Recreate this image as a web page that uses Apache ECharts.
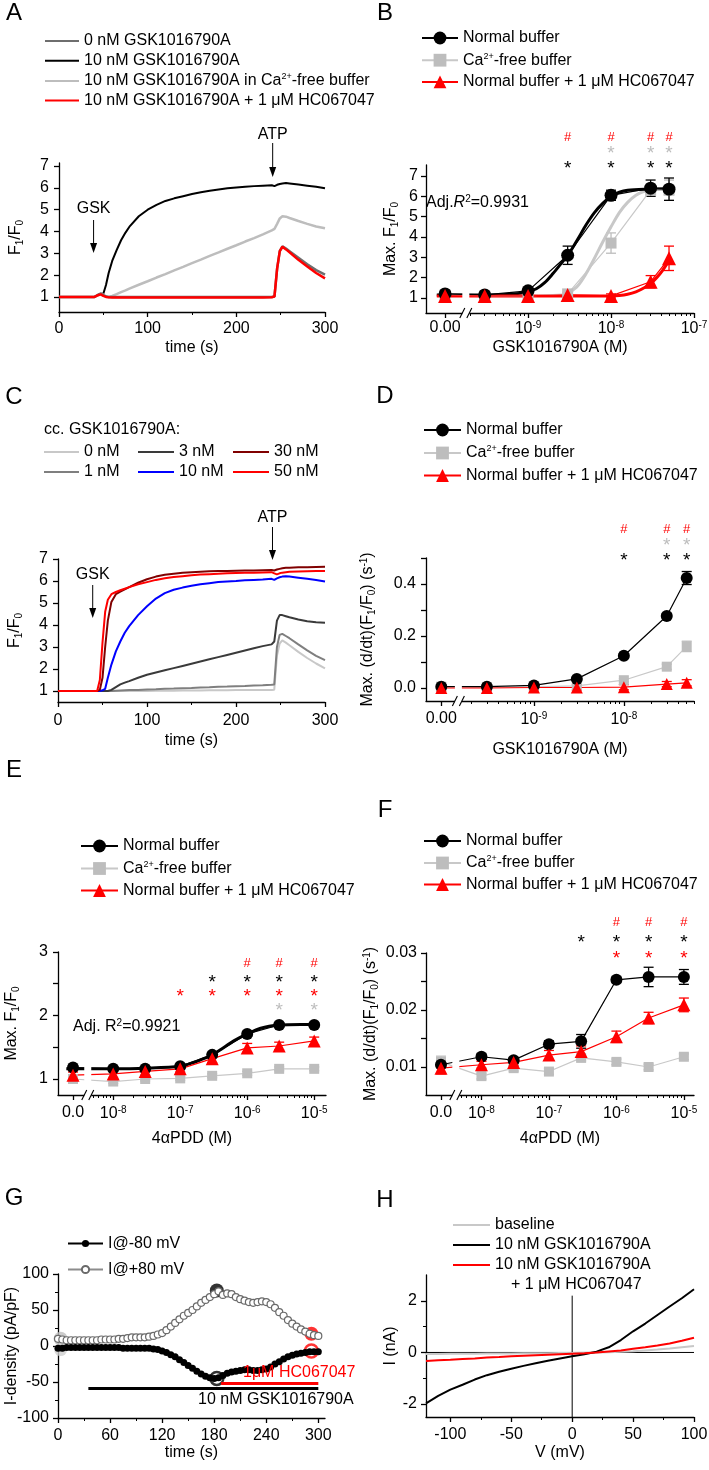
<!DOCTYPE html>
<html>
<head>
<meta charset="utf-8">
<script src="https://cdn.jsdelivr.net/npm/echarts@6.0.0/dist/echarts.min.js"></script>
<style>
html,body{margin:0;padding:0;background:#fff;}
#chart{width:709px;height:1470px;}
</style>
</head>
<body>
<div id="chart"></div>
<script>
// ================= DATA =================
// Panels A & C: time (s)
const timeTrace = [0,10,20,30,40,44,47,50,53,56,60,65,70,75,80,90,100,110,120,130,140,150,160,170,180,190,200,210,220,230,240,243,246,249,252,256,260,270,280,290,300];
// Panel A: F1/F0
const A_gsk0 = [1.00,1.00,1.00,1.00,1.00,1.10,1.15,1.08,1.02,1.00, 1.00,1.00,1.00,1.00,1.00,1.00,1.00,1.00,1.00,1.00,1.00,1.00,1.00,1.00,1.00,1.00,1.00,1.00,1.00,1.00,1.00, 1.02,2.30,3.10,3.32,3.22,3.10,2.80,2.50,2.23,2.02];
const A_gsk10 = [1.00,1.00,1.00,1.00,1.00,1.08,1.15,1.15,1.55,2.10,2.65,3.15,3.60,3.95,4.25,4.70,5.00,5.22,5.40,5.52,5.62,5.72,5.80,5.87,5.93,5.98,6.02,6.05,6.08,6.10,6.12,6.08,6.14,6.18,6.20,6.22,6.20,6.15,6.10,6.05,5.98];
const A_gsk10Ca = [1.00,1.00,1.00,1.00,1.00,1.08,1.15,1.10,1.03,1.00,1.05,1.13,1.22,1.30,1.39,1.56,1.72,1.89,2.05,2.22,2.38,2.55,2.71,2.88,3.04,3.21,3.37,3.54,3.70,3.87,4.05,4.12,4.35,4.60,4.70,4.68,4.62,4.48,4.35,4.23,4.15];
const A_gsk10HC = [1.00,1.00,1.00,1.00,1.00,1.08,1.12,1.05,1.00,0.99, 0.98,0.98,0.98,0.98,0.98,0.98,0.98,0.98,0.98,0.98,0.98,0.98,0.98,0.98,0.98,0.98,0.98,0.98,0.98,0.98,0.99, 1.02,2.30,3.10,3.30,3.18,3.05,2.70,2.40,2.10,1.85];
// Panel C: F1/F0 for each GSK1016790A concentration
const C_0nM  = [1,1,1,1,1, 1,1,1,1,1, 1.00,1.00,1.00,1.00,1.00,1.00,1.00,1.01,1.01,1.01,1.02,1.02,1.02,1.03,1.03,1.03,1.04,1.04,1.04,1.05,1.05, 1.06,2.60,3.15,3.30,3.20,3.08,2.78,2.50,2.25,2.03];
const C_1nM  = [1,1,1,1,1, 1,1,1,1,1, 1.00,1.01,1.02,1.03,1.04,1.05,1.07,1.08,1.10,1.11,1.13,1.14,1.16,1.17,1.19,1.20,1.22,1.23,1.25,1.26,1.28, 1.30,3.00,3.55,3.60,3.50,3.40,3.12,2.85,2.60,2.40];
const C_3nM  = [1,1,1,1,1, 1,1,1,1,1, 1.05,1.18,1.30,1.38,1.45,1.60,1.74,1.84,1.94,2.04,2.14,2.24,2.34,2.44,2.54,2.64,2.74,2.84,2.94,3.04,3.12, 3.25,4.20,4.45,4.45,4.40,4.35,4.25,4.17,4.12,4.10];
const C_10nM = [1,1,1,1,1, 1.00,1.00,1.03,1.10,1.60, 2.20,2.80,3.25,3.65,3.95,4.45,4.85,5.20,5.45,5.60,5.70,5.78,5.85,5.90,5.95,5.98,6.00,6.03,6.05,6.07,6.10, 6.05,6.12,6.17,6.20,6.22,6.20,6.15,6.10,6.05,5.98];
const C_30nM = [1,1,1,1,1, 1.00,1.05,1.60,3.00,4.20, 5.05,5.40,5.52,5.62,5.72,5.92,6.08,6.20,6.28,6.33,6.37,6.40,6.42,6.44,6.45,6.46,6.47,6.48,6.48,6.49,6.50, 6.48,6.52,6.55,6.58,6.60,6.60,6.62,6.63,6.64,6.65];
const C_50nM = [1,1,1,1,1, 1.00,1.50,3.20,4.60,5.15, 5.40,5.50,5.58,5.65,5.72,5.85,5.95,6.05,6.12,6.18,6.22,6.26,6.29,6.31,6.33,6.35,6.36,6.37,6.38,6.39,6.40, 6.35,6.30,6.35,6.38,6.40,6.42,6.43,6.44,6.45,6.45];
// Annotation times (s)
const gskAddTime = 39, atpAddTime = 241;

// Panel B: GSK1016790A concentration (M) vs Max F1/F0
const concGSK = [0, 3e-10, 1e-9, 3e-9, 1e-8, 3e-8, 5e-8];
const B_norm = [1.20, 1.15, 1.35, 3.10, 6.05, 6.40, 6.35];
const B_normErr = [0.15, 0.10, 0.10, 0.45, 0.25, 0.40, 0.55];
const B_ca = [1.15, 1.10, 1.10, 1.20, 3.70, 6.30, 6.30];
const B_caErr = [0.10, 0.10, 0.10, 0.10, 0.50, 0.30, 0.50];
const B_hc = [1.10, 1.10, 1.10, 1.15, 1.10, 1.80, 2.95];
const B_hcErr = [0.15, 0.10, 0.10, 0.10, 0.10, 0.30, 0.60];
// Fitted curves in panel B (log10 M, Max F1/F0)
const fitB_norm_logc = [-10.1,-9.5,-9.2,-9.0,-8.9,-8.8,-8.7,-8.6,-8.52,-8.4,-8.3,-8.2,-8.1,-8.0,-7.9,-7.8,-7.6,-7.3];
const fitB_norm_val  = [1.15,1.15,1.18,1.30,1.45,1.75,2.20,2.70,3.10,3.90,4.60,5.20,5.65,6.00,6.20,6.30,6.35,6.37];
const fitB_ca_logc = [-8.52,-8.4,-8.3,-8.2,-8.1,-8.0,-7.9,-7.8,-7.7,-7.6,-7.5,-7.3];
const fitB_ca_val  = [1.20,1.60,2.20,2.95,3.75,4.50,5.20,5.70,6.05,6.25,6.35,6.40];
const fitB_hc_logc = [-10.1,-9.5,-9.0,-8.5,-8.0,-7.9,-7.8,-7.7,-7.6,-7.52,-7.45,-7.38,-7.3];
const fitB_hc_val  = [1.10,1.10,1.10,1.10,1.10,1.12,1.18,1.30,1.50,1.72,2.00,2.35,2.85];
// Significance marks (concentrations)
const B_sigHash = [3e-9, 1e-8, 3e-8, 5e-8];
const B_sigCa = [1e-8, 3e-8, 5e-8];
const B_sigNorm = [3e-9, 1e-8, 3e-8, 5e-8];

// Panel D: Max (d/dt)(F1/F0) (1/s)
const D_norm = [0.005, 0.005, 0.010, 0.035, 0.124, 0.277, 0.423];
const D_normErr = [0.005, 0.004, 0.004, 0.006, 0.008, 0.010, 0.025];
const D_ca = [0.005, 0.002, 0.004, 0.008, 0.030, 0.082, 0.160];
const D_caErr = [0.004, 0.004, 0.004, 0.004, 0.006, 0.010, 0.020];
const D_hc = [0.000, 0.000, 0.002, 0.002, 0.003, 0.015, 0.020];
const D_hcErr = [0.012, 0.010, 0.010, 0.010, 0.010, 0.010, 0.012];
const D_sigHash = [1e-8, 3e-8, 5e-8];
const D_sigCa = [3e-8, 5e-8];
const D_sigNorm = [1e-8, 3e-8, 5e-8];

// Panels E & F: 4αPDD concentration (M)
const conc4a = [0, 1e-8, 3e-8, 1e-7, 3e-7, 1e-6, 3e-6, 1e-5];
const E_norm = [1.18, 1.16, 1.16, 1.20, 1.38, 1.71, 1.85, 1.85];
const E_normErr = [0.03, 0.03, 0.03, 0.03, 0.04, 0.04, 0.04, 0.04];
const E_ca = [1.00, 0.96, 1.00, 1.01, 1.05, 1.09, 1.16, 1.16];
const E_caErr = [0.03, 0.03, 0.03, 0.03, 0.03, 0.03, 0.03, 0.03];
const E_hc = [1.06, 1.08, 1.12, 1.16, 1.32, 1.49, 1.52, 1.60];
const E_hcErr = [0.05, 0.08, 0.06, 0.05, 0.06, 0.07, 0.06, 0.06];
const fitE_logc = [-8.7,-8.0,-7.5,-7.0,-6.8,-6.6,-6.52,-6.4,-6.2,-6.0,-5.8,-5.52,-5.2,-5.0];
const fitE_val  = [1.16,1.16,1.17,1.20,1.26,1.34,1.38,1.46,1.60,1.71,1.80,1.85,1.86,1.86];
const E_sigHash = [1e-6, 3e-6, 1e-5];
const E_sigNorm = [3e-7, 1e-6, 3e-6, 1e-5];
const E_sigHC = [1e-7, 3e-7, 1e-6, 3e-6, 1e-5];
const E_sigCa = [3e-6, 1e-5];

const F_norm = [0.0104, 0.0118, 0.0112, 0.0140, 0.0145, 0.0253, 0.0258, 0.0258];
const F_normErr = [0.0005, 0.0005, 0.0005, 0.0006, 0.0012, 0.0005, 0.0017, 0.0013];
const F_ca = [0.0109, 0.0084, 0.0098, 0.0092, 0.0116, 0.0109, 0.0100, 0.0118];
const F_caErr = [0.0010, 0.0005, 0.0005, 0.0005, 0.0005, 0.0005, 0.0005, 0.0005];
const F_hc = [0.0098, 0.0104, 0.0108, 0.0121, 0.0127, 0.0153, 0.0186, 0.0209];
const F_hcErr = [0.0010, 0.0006, 0.0006, 0.0008, 0.0010, 0.0010, 0.0010, 0.0012];
const F_sigHash = [1e-6, 3e-6, 1e-5];
const F_sigNorm = [3e-7, 1e-6, 3e-6, 1e-5];
const F_sigHC = [1e-6, 3e-6, 1e-5];

// Panel G: current density (pA/pF) over time
const tG = [0,5,10,15,20,25,30,35,40,45,50,55,60,65,70,75,80,85,90,95,100,105,110,115,120,125,130,135,140,145,150,155,160,165,170,175,180,185,190,195,200,205,210,215,220,225,230,235,240,245,250,255,260,265,270,275,280,285,290,295,300];
const G_pos = [10,9,8,8,8,8,8,8,8,8,9,9,9,9,10,10,11,12,12,12,12,13,14,16,18,22,27,32,37,42,46,50,55,60,64,68,72,76,71,73,72,68,65,63,61,60,61,62,61,58,53,47,42,36,31,27,23,20,17,15,14];
const G_neg = [-3,-3,-2,-2,-2,-2,-2,-2,-2,-2,-2,-2,-2,-2,-2,-3,-3,-3,-3,-3,-3,-3,-4,-5,-7,-9,-12,-15,-19,-23,-27,-31,-35,-39,-42,-44,-45,-44,-41,-38,-36,-35,-34,-33,-33,-34,-34,-33,-32,-29,-25,-22,-18,-15,-13,-11,-10,-9,-8,-8,-8];
const gMarkT = [3, 183, 292];
const gMarkPos = [10, 77, 17];
const gMarkNeg = [-5, -45, -7];
const gskBarT = [35, 300], gskBarLevel = -59;
const hcBarT = [188, 300], hcBarLevel = -52;

// Panel H: I-V relation
const vH = [-120,-110,-100,-90,-80,-70,-60,-50,-40,-30,-20,-10,0,10,20,30,40,50,60,70,80,90,100];
const H_base = [-0.06,-0.06,-0.05,-0.05,-0.05,-0.04,-0.04,-0.04,-0.03,-0.03,-0.03,-0.02,-0.02,-0.01,0.00,0.01,0.03,0.05,0.08,0.11,0.15,0.20,0.25];
const H_gsk  = [-1.97,-1.68,-1.44,-1.25,-1.05,-0.88,-0.75,-0.63,-0.52,-0.42,-0.32,-0.23,-0.15,-0.07,0.03,0.20,0.48,0.82,1.12,1.45,1.78,2.10,2.45];
const H_hc   = [-0.33,-0.30,-0.28,-0.25,-0.23,-0.20,-0.18,-0.15,-0.13,-0.11,-0.09,-0.07,-0.05,-0.03,0.00,0.04,0.08,0.14,0.20,0.27,0.35,0.45,0.57];
const H_zeroV = [-120, 100];
const H_vLineI = [-2.5, 2.2];

// ================= BUILD =================
const FONT = '"Liberation Sans", Arial, Helvetica, sans-serif';
const FS = 16;
const RICH = {
  sup: {fontSize: 10, fontFamily: FONT, padding: [0, 0, 8, 0]},
  sub: {fontSize: 10, fontFamily: FONT, padding: [8, 0, 0, 0]},
  it: {fontSize: FS, fontFamily: FONT, fontStyle: 'italic'}
};
const zip = (xs, ys) => xs.map((x, i) => [x, ys[i]]);
const lg = zero => c => (c === 0 ? zero : Math.log10(c));
const lgB = lg(-10), lgD = lg(-10.03), lgE = lg(-8.6);

const grids = [], xAxes = [], yAxes = [], series = [], legends = [];
function addGrid(b) {
  grids.push({left: b.left, top: b.top, width: b.width, height: b.height, containLabel: false, outerBoundsMode: 'none', show: false});
  return grids.length - 1;
}
function axis(dim, gi, c) {
  const isX = dim === 'x';
  const arr = isX ? xAxes : yAxes;
  const pos = isX ? 'bottom' : 'left';
  arr.push({
    type: 'value', gridIndex: gi, min: c.min, max: c.max, position: pos, offset: 0,
    axisLine: {show: true, onZero: false, lineStyle: {color: '#000', width: 1.3}},
    axisTick: {show: true, inside: false, length: 5, customValues: c.ticks, lineStyle: {color: '#000', width: 1.3}},
    axisLabel: {show: true, customValues: c.labels, margin: c.margin, formatter: c.fmt, color: '#000', fontFamily: FONT, fontSize: FS, rich: RICH, hideOverlap: false},
    splitLine: {show: false}, minorTick: {show: false},
    name: c.name || '', nameLocation: 'middle', nameGap: c.nameGap || 0, nameRotate: isX ? 0 : 90, nameMoveOverlap: false,
    nameTextStyle: {color: '#000', fontFamily: FONT, fontSize: FS, rich: RICH},
    silent: true
  });
  const idx = arr.length - 1;
  if (c.minor) {
    arr.push({
      type: 'value', gridIndex: gi, min: c.min, max: c.max, position: pos, offset: 0,
      axisLine: {show: false, onZero: false}, axisLabel: {show: false}, splitLine: {show: false},
      axisTick: {show: true, inside: false, length: 3, customValues: c.minor, lineStyle: {color: '#000', width: 1}},
      silent: true
    });
  }
  return idx;
}
function minorLog(d0, d1, lo, hi) {
  const out = [];
  for (let n = d0; n < d1; n++) for (let k = 2; k <= 9; k++) {
    const v = n + Math.log10(k);
    if (v > lo && v < hi) out.push(v);
  }
  return out;
}
function addLine(name, xi, yi, pts, o) {
  o = o || {};
  series.push({
    type: 'line', name: name, xAxisIndex: xi, yAxisIndex: yi, data: pts,
    symbol: o.symbol || 'none', symbolSize: o.size || 0, showSymbol: !!o.symbol, showAllSymbol: true,
    smooth: o.smooth || false, silent: true, animation: false, clip: true,
    lineStyle: {color: o.color, width: o.width == null ? 1.2 : o.width},
    itemStyle: {color: o.fill || o.color, borderColor: o.border || o.fill || o.color, borderWidth: o.bw || 0},
    emphasis: {disabled: true}
  });
}
function addErr(xi, yi, xs, ys, es, color, cap) {
  series.push({
    type: 'custom', xAxisIndex: xi, yAxisIndex: yi, silent: true, animation: false,
    data: xs.map((x, i) => [x, ys[i] - es[i], ys[i] + es[i]]),
    encode: {x: 0, y: [1, 2]},
    renderItem: function (p, api) {
      const x = api.value(0);
      const a = api.coord([x, api.value(1)]), b = api.coord([x, api.value(2)]);
      const st = {stroke: color, lineWidth: 1.3, fill: null};
      return {type: 'group', children: [
        {type: 'line', shape: {x1: a[0], y1: a[1], x2: b[0], y2: b[1]}, style: st},
        {type: 'line', shape: {x1: a[0] - cap, y1: a[1], x2: a[0] + cap, y2: a[1]}, style: st},
        {type: 'line', shape: {x1: b[0] - cap, y1: b[1], x2: b[0] + cap, y2: b[1]}, style: st}
      ]};
    }
  });
}
const fmtName = n => n.replace(/^[^:]*:/, '').replace('Ca2+', 'Ca{sup|2+}');
function addLegend(names, left, top, w, h, gap, hideSym) {
  legends.push({
    show: true, orient: 'vertical', left: left, top: top, itemWidth: w, itemHeight: h, itemGap: gap,
    padding: 0, selectedMode: false, data: names, formatter: fmtName, align: 'left',
    itemStyle: hideSym ? {opacity: 0} : {},
    textStyle: {color: '#000', fontFamily: FONT, fontSize: FS, lineHeight: h, rich: {sup: {fontSize: 9, fontFamily: FONT, padding: [0, 0, 8, 0]}}}
  });
}

const GRAY = '#bdbdbd', RED = '#ff0000';

// ---------- Panel A ----------
const boxA = {left: 59, top: 163, width: 266, height: 149};
const gA = addGrid(boxA);
const xA = axis('x', gA, {min: 0, max: 300, ticks: [0, 100, 200, 300], labels: [0, 100, 200, 300], minor: [50, 150, 250], margin: 9, fmt: v => String(v), name: 'time (s)', nameGap: 28});
const yA = axis('y', gA, {min: 0.31, max: 7.14, ticks: [1, 2, 3, 4, 5, 6, 7], labels: [1, 2, 3, 4, 5, 6, 7], margin: 10, fmt: v => String(v), name: 'F{sub|1}/F{sub|0}', nameGap: 34});
addLine('A:10 nM GSK1016790A', xA, yA, zip(timeTrace, A_gsk10), {color: '#000', width: 2});
addLine('A:10 nM GSK1016790A in Ca2+-free buffer', xA, yA, zip(timeTrace, A_gsk10Ca), {color: GRAY, width: 2.5});
addLine('A:0 nM GSK1016790A', xA, yA, zip(timeTrace, A_gsk0), {color: '#6e6e6e', width: 2.5});
addLine('A:10 nM GSK1016790A + 1 μM HC067047', xA, yA, zip(timeTrace, A_gsk10HC), {color: RED, width: 2.5});
addLegend(['A:0 nM GSK1016790A', 'A:10 nM GSK1016790A', 'A:10 nM GSK1016790A in Ca2+-free buffer', 'A:10 nM GSK1016790A + 1 μM HC067047'], 44, 33, 34, 16, 3.7, true);

// ---------- Panel B ----------
const boxB = {left: 426, top: 165, width: 268, height: 148};
const gB = addGrid(boxB);
const xB = axis('x', gB, {min: -10.23, max: -7, ticks: [-10, -9, -8, -7], labels: [-10, -9, -8, -7], minor: minorLog(-10, -7, -9.75, -7), margin: 7,
  fmt: v => (v < -9.5 ? '0.00' : '10{sup|' + v + '}')});
const yB = axis('y', gB, {min: 0.26, max: 7.54, ticks: [1, 2, 3, 4, 5, 6, 7], labels: [1, 2, 3, 4, 5, 6, 7], margin: 8, fmt: v => String(v), name: 'Max. F{sub|1}/F{sub|0}', nameGap: 26});
addLine('B:fitCa', xB, yB, zip(fitB_ca_logc, fitB_ca_val), {color: '#c8c8c8', width: 3, smooth: 0.3});
addLine('B:fitNorm', xB, yB, zip(fitB_norm_logc, fitB_norm_val), {color: '#000', width: 3, smooth: 0.3});
addLine('B:fitHC', xB, yB, zip(fitB_hc_logc, fitB_hc_val), {color: RED, width: 3, smooth: 0.3});
const xsB = concGSK.map(lgB);
addErr(xB, yB, xsB, B_ca, B_caErr, GRAY, 5);
addErr(xB, yB, xsB, B_norm, B_normErr, '#000', 5);
addErr(xB, yB, xsB, B_hc, B_hcErr, RED, 5);
addLine('B:Ca2+-free buffer', xB, yB, zip(xsB, B_ca), {color: '#c8c8c8', width: 1.2, symbol: 'rect', size: 11, fill: GRAY});
addLine('B:Normal buffer', xB, yB, zip(xsB, B_norm), {color: '#000', width: 1.2, symbol: 'circle', size: 13, fill: '#000'});
addLine('B:Normal buffer + 1 μM HC067047', xB, yB, zip(xsB, B_hc), {color: RED, width: 1.2, symbol: 'triangle', size: 14, fill: RED});
addLegend(['B:Normal buffer', 'B:Ca2+-free buffer', 'B:Normal buffer + 1 μM HC067047'], 421, 30, 36, 16, 5.7, false);

// ---------- Panel C ----------
const boxC = {left: 58, top: 559, width: 267, height: 143};
const gC = addGrid(boxC);
const xC = axis('x', gC, {min: 0, max: 300, ticks: [0, 100, 200, 300], labels: [0, 100, 200, 300], minor: [50, 150, 250], margin: 11, fmt: v => String(v), name: 'time (s)', nameGap: 31});
const yC = axis('y', gC, {min: 0.5, max: 7, ticks: [1, 2, 3, 4, 5, 6, 7], labels: [1, 2, 3, 4, 5, 6, 7], margin: 10, fmt: v => String(v), name: 'F{sub|1}/F{sub|0}', nameGap: 34});
addLine('C:0 nM', xC, yC, zip(timeTrace, C_0nM), {color: '#c8c8c8', width: 2});
addLine('C:1 nM', xC, yC, zip(timeTrace, C_1nM), {color: '#7f7f7f', width: 2});
addLine('C:3 nM', xC, yC, zip(timeTrace, C_3nM), {color: '#3a3a3a', width: 2});
addLine('C:10 nM', xC, yC, zip(timeTrace, C_10nM), {color: '#0000ff', width: 2});
addLine('C:30 nM', xC, yC, zip(timeTrace, C_30nM), {color: '#800000', width: 2});
addLine('C:50 nM', xC, yC, zip(timeTrace, C_50nM), {color: RED, width: 2});
addLegend(['C:0 nM', 'C:1 nM'], 43, 444, 35, 16, 4, true);
addLegend(['C:3 nM', 'C:10 nM'], 137, 444, 36, 16, 4, true);
addLegend(['C:30 nM', 'C:50 nM'], 232, 444, 36, 16, 4, true);

// ---------- Panel D ----------
const boxD = {left: 426, top: 558, width: 268, height: 143};
const gD = addGrid(boxD);
const xD = axis('x', gD, {min: -10.2, max: -7.22, ticks: [-10.03, -9, -8], labels: [-10.03, -9, -8], minor: minorLog(-10, -7, -9.84, -7.22), margin: 10,
  fmt: v => (v < -9.5 ? '0.00' : '10{sup|' + v + '}'), name: 'GSK1016790A (M)', nameGap: 41});
const yD = axis('y', gD, {min: -0.05, max: 0.5, ticks: [0, 0.1, 0.2, 0.3, 0.4, 0.5], labels: [0, 0.2, 0.4], margin: 10, fmt: v => v.toFixed(1),
  name: 'Max. (d/dt)(F{sub|1}/F{sub|0}) (s{sup|-1})', nameGap: 49});
const xsD = concGSK.map(lgD);
addErr(xD, yD, xsD, D_ca, D_caErr, GRAY, 5);
addErr(xD, yD, xsD, D_norm, D_normErr, '#000', 5);
addErr(xD, yD, xsD, D_hc, D_hcErr, RED, 5);
addLine('D:Ca2+-free buffer', xD, yD, zip(xsD, D_ca), {color: '#c8c8c8', width: 1.2, symbol: 'rect', size: 10, fill: GRAY});
addLine('D:Normal buffer', xD, yD, zip(xsD, D_norm), {color: '#000', width: 1.2, symbol: 'circle', size: 12, fill: '#000'});
addLine('D:Normal buffer + 1 μM HC067047', xD, yD, zip(xsD, D_hc), {color: RED, width: 1.2, symbol: 'triangle', size: 12, fill: RED});
addLegend(['D:Normal buffer', 'D:Ca2+-free buffer', 'D:Normal buffer + 1 μM HC067047'], 423, 422, 37, 16, 6.5, false);

// ---------- Panel E ----------
const boxE = {left: 58, top: 952, width: 268, height: 143};
const gE = addGrid(boxE);
const xE = axis('x', gE, {min: -8.824, max: -4.824, ticks: [-8.6, -8, -7, -6, -5], labels: [-8.6, -8, -7, -6, -5], minor: minorLog(-9, -5, -8.38, -4.824), margin: 10,
  fmt: v => (v < -8.3 ? '0.0' : '10{sup|' + v + '}'), name: '4αPDD (M)', nameGap: 36});
const yE = axis('y', gE, {min: 0.748, max: 3, ticks: [1, 1.5, 2, 2.5, 3], labels: [1, 2, 3], margin: 10, fmt: v => String(v), name: 'Max. F{sub|1}/F{sub|0}', nameGap: 37});
const xsE = conc4a.map(lgE);
addErr(xE, yE, xsE, E_ca, E_caErr, GRAY, 5);
addErr(xE, yE, xsE, E_norm, E_normErr, '#000', 5);
addErr(xE, yE, xsE, E_hc, E_hcErr, RED, 5);
addLine('E:Ca2+-free buffer', xE, yE, zip(xsE, E_ca), {color: '#c8c8c8', width: 1.2, symbol: 'rect', size: 10, fill: GRAY});
addLine('E:fit', xE, yE, zip(fitE_logc, fitE_val), {color: '#000', width: 3, smooth: 0.3});
addLine('E:Normal buffer', xE, yE, zip(xsE, E_norm), {color: '#000', width: 1.2, symbol: 'circle', size: 12, fill: '#000'});
addLine('E:Normal buffer + 1 μM HC067047', xE, yE, zip(xsE, E_hc), {color: RED, width: 1.2, symbol: 'triangle', size: 13, fill: RED});
addLegend(['E:Normal buffer', 'E:Ca2+-free buffer', 'E:Normal buffer + 1 μM HC067047'], 80, 838, 37, 16, 6, false);

// ---------- Panel F ----------
const boxF = {left: 426, top: 953, width: 268, height: 142};
const gF = addGrid(boxF);
const xF = axis('x', gF, {min: -8.822, max: -4.85, ticks: [-8.6, -8, -7, -6, -5], labels: [-8.6, -8, -7, -6, -5], minor: minorLog(-9, -5, -8.38, -4.85), margin: 10,
  fmt: v => (v < -8.3 ? '0.0' : '10{sup|' + v + '}'), name: '4αPDD (M)', nameGap: 36});
const yF = axis('y', gF, {min: 0.00509, max: 0.03, ticks: [0.01, 0.015, 0.02, 0.025, 0.03], labels: [0.01, 0.02, 0.03], margin: 9, fmt: v => v.toFixed(2),
  name: 'Max. (d/dt)(F{sub|1}/F{sub|0}) (s{sup|-1})', nameGap: 46});
const xsF = conc4a.map(lgE);
addErr(xF, yF, xsF, F_ca, F_caErr, GRAY, 5);
addErr(xF, yF, xsF, F_norm, F_normErr, '#000', 5);
addErr(xF, yF, xsF, F_hc, F_hcErr, RED, 5);
addLine('F:Ca2+-free buffer', xF, yF, zip(xsF, F_ca), {color: '#c8c8c8', width: 1.2, symbol: 'rect', size: 10, fill: GRAY});
addLine('F:Normal buffer', xF, yF, zip(xsF, F_norm), {color: '#000', width: 1.2, symbol: 'circle', size: 12, fill: '#000'});
addLine('F:Normal buffer + 1 μM HC067047', xF, yF, zip(xsF, F_hc), {color: RED, width: 1.2, symbol: 'triangle', size: 13, fill: RED});
addLegend(['F:Normal buffer', 'F:Ca2+-free buffer', 'F:Normal buffer + 1 μM HC067047'], 423, 833, 37, 16, 5.5, false);

// ---------- Panel G ----------
const boxG = {left: 58, top: 1274, width: 267, height: 144};
const gG = addGrid(boxG);
const xG = axis('x', gG, {min: 0, max: 307.7, ticks: [0, 60, 120, 180, 240, 300], labels: [0, 60, 120, 180, 240, 300], minor: [30, 90, 150, 210, 270], margin: 10, fmt: v => String(v), name: 'time (s)', nameGap: 27});
const yG = axis('y', gG, {min: -100, max: 100, ticks: [-100, -50, 0, 50, 100], labels: [-100, -50, 0, 50, 100], minor: [-75, -25, 25, 75], margin: 9, fmt: v => String(v), name: 'I-density (pA/pF)', nameGap: 38});
addLine('G:I@+80 mV', xG, yG, zip(tG, G_pos), {color: '#8c8c8c', width: 1, symbol: 'circle', size: 7, fill: '#fff', border: '#6a6a6a', bw: 1.2});
addLine('G:I@-80 mV', xG, yG, zip(tG, G_neg), {color: '#000', width: 1.5, symbol: 'circle', size: 7, fill: '#000'});
const markCol = ['#bfbfbf', '#000000', '#ff0000'];
series.push({type: 'scatter', name: 'G:markPos', xAxisIndex: xG, yAxisIndex: yG, silent: true, animation: false, symbolSize: 14,
  data: gMarkT.map((t, i) => ({value: [t, gMarkPos[i]], itemStyle: {color: markCol[i]}}))});
series.push({type: 'scatter', name: 'G:markNeg', xAxisIndex: xG, yAxisIndex: yG, silent: true, animation: false, symbolSize: 13,
  data: gMarkT.map((t, i) => ({value: [t, gMarkNeg[i]], itemStyle: i === 0 ? {color: '#d0d0d0'} : {color: '#fff', borderColor: markCol[i], borderWidth: 2.5}}))});
addLine('G:gskBar', xG, yG, gskBarT.map(t => [t, gskBarLevel]), {color: '#000', width: 3});
addLine('G:hcBar', xG, yG, hcBarT.map(t => [t, hcBarLevel]), {color: RED, width: 3});
addLegend(['G:I@-80 mV', 'G:I@+80 mV'], 67, 1235.5, 35, 9, 10, false);

// ---------- Panel H ----------
const boxH = {left: 426, top: 1275, width: 268, height: 142};
const gH = addGrid(boxH);
const xH = axis('x', gH, {min: -120, max: 100, ticks: [-100, -50, 0, 50, 100], labels: [-100, -50, 0, 50, 100], minor: [-75, -25, 25, 75], margin: 10, fmt: v => String(v), name: 'V (mV)', nameGap: 28});
const yH = axis('y', gH, {min: -2.5, max: 3, ticks: [-2, 0, 2], labels: [-2, 0, 2], minor: [-1, 1], margin: 9, fmt: v => String(v), name: 'I (nA)', nameGap: 27});
addLine('H:zeroI', xH, yH, H_zeroV.map(v => [v, 0]), {color: '#000', width: 1});
addLine('H:zeroV', xH, yH, H_vLineI.map(i => [0, i]), {color: '#000', width: 1});
addLine('H:baseline', xH, yH, zip(vH, H_base), {color: '#c8c8c8', width: 2});
addLine('H:10 nM GSK1016790A', xH, yH, zip(vH, H_gsk), {color: '#000', width: 2});
addLine('H2:10 nM GSK1016790A', xH, yH, zip(vH, H_hc), {color: RED, width: 2});
addLegend(['H:baseline', 'H:10 nM GSK1016790A', 'H2:10 nM GSK1016790A'], 452, 1217, 37, 16, 4, true);

const chart = echarts.init(document.getElementById('chart'), null, {renderer: 'canvas', width: 709, height: 1470});
chart.setOption({
  animation: false, backgroundColor: '#fff', textStyle: {fontFamily: FONT},
  grid: grids, xAxis: xAxes, yAxis: yAxes, series: series, legend: legends
});

// ================= ANNOTATIONS =================
const gr = [];
const px = (xi, v) => chart.convertToPixel({xAxisIndex: xi}, v);
function txt(x, y, s, o) {
  const st = Object.assign({text: s, fill: '#000', fontSize: FS, fontFamily: FONT, align: 'left', verticalAlign: 'middle', textAlign: 'left', textVerticalAlign: 'middle', rich: RICH}, o || {});
  if (o && o.align) st.textAlign = o.align;
  gr.push({type: 'text', x: x, y: y, z: 100, silent: true, style: st});
}
function ln(x1, y1, x2, y2, c, w) {
  gr.push({type: 'line', z: 100, silent: true, shape: {x1: x1, y1: y1, x2: x2, y2: y2}, style: {stroke: c || '#000', lineWidth: w || 1}});
}
function arrow(x, y1, y2) {
  ln(x, y1, x, y2 - 8, '#000', 1);
  gr.push({type: 'polygon', z: 100, silent: true, shape: {points: [[x - 3.5, y2 - 10], [x + 3.5, y2 - 10], [x, y2]]}, style: {fill: '#000'}});
}
function brk(xi, val, box) {
  const x = px(xi, val), yb = box.top + box.height;
  gr.push({type: 'rect', z: 90, silent: true, shape: {x: x - 3.5, y: box.top + 2, width: 7, height: box.height}, style: {fill: '#fff'}});
  ln(x - 6, yb + 5, x - 1, yb - 5, '#000', 1.1);
  ln(x + 1, yb + 5, x + 6, yb - 5, '#000', 1.1);
}
function sig(xi, lgf, concs, y, ch, color) {
  concs.forEach(c => {
    const x = px(xi, lgf(c));
    if (ch === '*') txt(x, y + 4, '*', {fill: color, fontSize: 19, align: 'center'});
    else txt(x, y, '#', {fill: color, fontSize: 13, align: 'center'});
  });
}
// panel letters
[['A', 14, 13], ['B', 385, 13], ['C', 14, 397], ['D', 385, 396], ['E', 14, 770], ['F', 385, 810], ['G', 14, 1198], ['H', 385, 1200]]
  .forEach(a => txt(a[1], a[2], a[0], {fontSize: 24, align: 'center'}));
// A annotations
let ax = px(xA, gskAddTime); txt(ax, 209, 'GSK', {align: 'center'}); arrow(ax, 220, 253);
ax = px(xA, atpAddTime); txt(ax, 135, 'ATP', {align: 'center'}); arrow(ax, 143, 177);
// C annotations
ax = px(xC, gskAddTime); txt(ax, 575, 'GSK', {align: 'center'}); arrow(ax, 585, 618);
ax = px(xC, atpAddTime); txt(ax, 518, 'ATP', {align: 'center'}); arrow(ax, 527, 560);
txt(44, 430, 'cc. GSK1016790A:');
// B
txt(boxB.left + boxB.width / 2, 348, 'GSK1016790A (M)', {align: 'center'});
brk(xB, -9.75, boxB);
sig(xB, lgB, B_sigHash, 137, '#', RED);
sig(xB, lgB, B_sigCa, 150, '*', GRAY);
sig(xB, lgB, B_sigNorm, 165, '*', '#000');
txt(426, 203, 'Adj.{it|R}{sup|2}=0.9931');
// D
brk(xD, -9.84, boxD);
sig(xD, lgD, D_sigHash, 529, '#', RED);
sig(xD, lgD, D_sigCa, 542, '*', GRAY);
sig(xD, lgD, D_sigNorm, 557, '*', '#000');
// E
brk(xE, -8.38, boxE);
sig(xE, lgE, E_sigHash, 963, '#', RED);
sig(xE, lgE, E_sigNorm, 979, '*', '#000');
sig(xE, lgE, E_sigHC, 993, '*', RED);
sig(xE, lgE, E_sigCa, 1007, '*', GRAY);
txt(73, 1027, 'Adj. R{sup|2}=0.9921');
// F
brk(xF, -8.38, boxF);
sig(xF, lgE, F_sigHash, 922, '#', RED);
sig(xF, lgE, F_sigNorm, 939, '*', '#000');
sig(xF, lgE, F_sigHC, 955, '*', RED);
// G
txt(243, 1373, '1μM HC067047', {fill: RED});
txt(198, 1400, '10 nM GSK1016790A');
// H
txt(511, 1285, '+ 1 μM HC067047');

chart.setOption({graphic: {elements: gr}});
</script>
</body>
</html>
